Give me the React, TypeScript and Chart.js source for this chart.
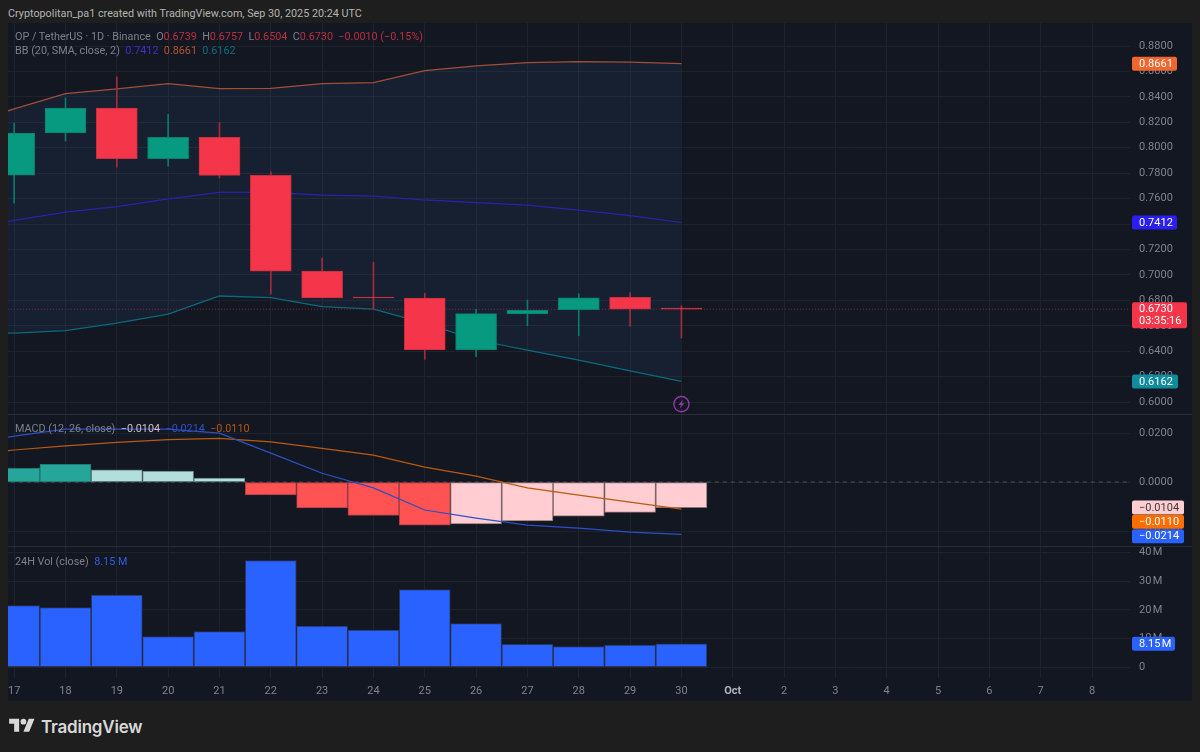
import React, { useEffect, useRef } from "react";
import { Chart, registerables } from "chart.js";

Chart.register(...registerables);

// ---------- data ----------
const axisLabels = ["17","18","19","20","21","22","23","24","25","26","27","28","29","30","Oct","2","3","4","5","6","7","8"];
const candleIndex = [0,1,2,3,4,5,6,7,8,9,10,11,12,13];
const opens  = [0.7785,0.8116,0.8312,0.7914,0.8082,0.7783,0.7030,0.6825,0.6818,0.6409,0.6694,0.6726,0.6823,0.6739];
const closes = [0.8116,0.8312,0.7914,0.8082,0.7783,0.7030,0.6818,0.6818,0.6409,0.6695,0.6721,0.6820,0.6731,0.6730];
const highs  = [0.8194,0.8393,0.8558,0.8263,0.8197,0.7811,0.7133,0.7101,0.6855,0.6729,0.6802,0.6852,0.6860,0.6757];
const lows   = [0.7565,0.8053,0.7846,0.7856,0.7762,0.6849,0.6818,0.6731,0.6336,0.6356,0.6600,0.6521,0.6595,0.6504];
const bandIndex = [-1,0,1,2,3,4,5,6,7,8,9,10,11,12,13];
const bbUpper  = [0.8187,0.8305,0.8425,0.8462,0.8504,0.8464,0.8467,0.8505,0.8513,0.8607,0.8643,0.8670,0.8678,0.8674,0.8661];
const bbMiddle = [0.7364,0.7429,0.7494,0.7536,0.7597,0.7649,0.7648,0.7628,0.7620,0.7589,0.7569,0.7549,0.7510,0.7467,0.7412];
const bbLower  = [0.6535,0.6543,0.6562,0.6621,0.6692,0.6834,0.6822,0.6751,0.6731,0.6621,0.6488,0.6409,0.6330,0.6246,0.6162];
const macdLine   = [0.0155,0.0188,0.0216,0.0216,0.0216,0.0200,0.0118,0.0036,-0.0024,-0.0114,-0.0147,-0.0176,-0.0188,-0.0204,-0.0214];
const signalLine = [0.0110,0.0131,0.0148,0.0162,0.0173,0.0178,0.0164,0.0138,0.0110,0.0061,0.0024,-0.0024,-0.0053,-0.0082,-0.0110];
const macdHist = [0.0056,0.0072,0.0050,0.0045,0.0016,-0.0052,-0.0106,-0.0136,-0.0176,-0.0171,-0.0159,-0.0139,-0.0124,-0.0104];
const volumesM = [21.5,20.8,25.2,10.7,12.4,37.2,14.3,12.9,27.1,15.2,8.0,7.2,7.7,8.15];
const lastPrice = 0.6730;
const lastLabel = "0.6730";
const countdown = "03:35:16";
const bbUpperLast = 0.8661;
const bbMiddleLast = 0.7412;
const bbLowerLast = 0.6162;
const priceTicksStep = 0.02;
const macdTicksStep = 0.02;
const volTicksStep = 10;
const headerText = "Cryptopolitan_pa1 created with TradingView.com, Sep 30, 2025 20:24 UTC";

// ---------- styles ----------
const UP = "#089981";
const DOWN = "#f5364a";
const GRID = "#1d222d";
const TEXT = "#80838d";
const FONT = "Roboto, Inter, 'Noto Sans', sans-serif";
const dim = "#7d808a";
const redVal = "#bb2f3f";

const fmtMinus = (v: number, d = 4) => (v < 0 ? "\u2212" : "") + Math.abs(v).toFixed(d);

const panePlugin = {
  id: "panes",
  beforeDraw(chart: any) {
    const { ctx, width, height } = chart;
    ctx.save();
    ctx.fillStyle = "#131722";
    ctx.fillRect(0, 0, width, height);
    ctx.restore();
  },
  afterDraw(chart: any) {
    const { ctx, scales, width } = chart;
    const { x, yP, yM, yV } = scales;
    ctx.save();
    // pane separators
    ctx.strokeStyle = "#2a2e39";
    ctx.lineWidth = 1;
    for (const py of [yP.bottom, yM.bottom]) {
      ctx.beginPath();
      ctx.moveTo(0, Math.round(py) + 0.5);
      ctx.lineTo(width, Math.round(py) + 0.5);
      ctx.stroke();
    }
    // lightning marker below last candle
    const mx = x.getPixelForValue(13);
    const my = yP.getPixelForValue(0.5984);
    ctx.strokeStyle = "#8e3aa8";
    ctx.lineWidth = 1.4;
    ctx.beginPath();
    ctx.arc(mx, my, 7.6, 0, Math.PI * 2);
    ctx.stroke();
    ctx.fillStyle = "#8e3aa8";
    ctx.beginPath();
    ctx.moveTo(mx + 1.8, my - 4.6);
    ctx.lineTo(mx - 3, my + 0.8);
    ctx.lineTo(mx - 0.4, my + 0.8);
    ctx.lineTo(mx - 1.8, my + 4.6);
    ctx.lineTo(mx + 3, my - 0.8);
    ctx.lineTo(mx + 0.4, my - 0.8);
    ctx.closePath();
    ctx.fill();

    const tag = (cy: number, w: number, bg: string, fg: string, text: string, text2?: string) => {
      const h = text2 ? 26 : 14;
      const left = x.right + 2;
      const top = cy - 7;
      ctx.fillStyle = bg;
      ctx.beginPath();
      ctx.roundRect(left, top, w, h, 2);
      ctx.fill();
      ctx.font = `11px ${FONT}`;
      ctx.textBaseline = "middle";
      ctx.textAlign = "left";
      ctx.fillStyle = fg;
      ctx.fillText(text, left + 7, cy + 0.5);
      if (text2) ctx.fillText(text2, left + 7, cy + 12.5);
    };
    tag(yP.getPixelForValue(bbUpperLast), 45, "#f1652f", "#ffffff", bbUpperLast.toFixed(4));
    tag(yP.getPixelForValue(bbMiddleLast), 45, "#2a1ef0", "#ffffff", bbMiddleLast.toFixed(4));
    tag(yP.getPixelForValue(lastPrice), 55, DOWN, "#ffffff", lastLabel, countdown);
    tag(yP.getPixelForValue(bbLowerLast), 46, "#0f8d9e", "#ffffff", bbLowerLast.toFixed(4));
    const mY = yM.getPixelForValue(macdHist[13]);
    tag(mY, 52, "#ffcdd2", "#3a3a3a", fmtMinus(macdHist[13]));
    tag(mY + 14.3, 52, "#ff6d00", "#ffffff", fmtMinus(signalLine[14]));
    tag(mY + 28.6, 52, "#2962ff", "#ffffff", fmtMinus(macdLine[14]));
    tag(yV.getPixelForValue(volumesM[13]), 43, "#2962ff", "#ffffff", "8.15\u202fM");
    ctx.restore();
  },
};

export default function App() {
  const ref = useRef<HTMLCanvasElement | null>(null);

  useEffect(() => {
    if (!ref.current) return;
    document.body.style.margin = "0";
    document.body.style.background = "#1e1e1e";

    const fit = (w?: number, h?: number) => (s: any) => {
      if (w) s.width = w;
      if (h) s.height = h;
      s.paddingLeft = 0;
      s.paddingRight = 0;
      s.paddingTop = 0;
      s.paddingBottom = 0;
    };
    const yBase = (stackWeight: number, weight: number, min: number, max: number, stepSize: number, cb: (v: number) => string) => ({
      type: "linear",
      position: "right",
      stack: "panes",
      stackWeight,
      weight,
      min,
      max,
      afterFit: fit(62),
      grid: { color: GRID, drawTicks: false, lineWidth: 1 },
      border: { display: false },
      ticks: {
        stepSize,
        includeBounds: false,
        autoSkip: false,
        padding: 9,
        color: TEXT,
        font: { family: FONT, size: 11 },
        callback: cb,
      },
    });

    const line = (label: string, idx: number[], vals: number[], yAxisID: string, color: string, order: number, extra: any = {}) => ({
      type: "line",
      label,
      data: idx.map((x, i) => ({ x, y: vals[i] })),
      yAxisID,
      borderColor: color,
      borderWidth: 1.25,
      pointRadius: 0,
      tension: 0,
      order,
      ...extra,
    });
    const bar = (label: string, data: any[], yAxisID: string, thickness: number, bg: any, bc: any, bw: number, order: number) => ({
      type: "bar",
      label,
      data,
      yAxisID,
      grouped: false,
      barThickness: thickness,
      backgroundColor: bg,
      borderColor: bc,
      borderWidth: bw,
      borderSkipped: false,
      order,
    });

    const histFill = macdHist.map((v, i) =>
      v >= 0 ? (i > 0 && v < macdHist[i - 1] ? "#b2dfdb" : i < 2 ? "#26a69a" : "#b2dfdb") : i > 0 && v > macdHist[i - 1] ? "#ffcdd2" : "#ff5252"
    );
    const histBorder = histFill.map((c) => ({ "#26a69a": "#1c7f76", "#b2dfdb": "#5f7d7b", "#ff5252": "#a63f48", "#ffcdd2": "#8c7376" } as any)[c]);

    const bandDatasetIndex = 2; // index of the lower band below
    const chart = new Chart(ref.current, {
      type: "bar",
      data: {
        datasets: [
          line("BB upper", bandIndex, bbUpper, "yP", "#a34e36", 10, {
            fill: { target: bandDatasetIndex },
            backgroundColor: "rgba(50,115,180,0.10)",
          }),
          line("BB basis", bandIndex, bbMiddle, "yP", "#2a22ad", 9),
          line("BB lower", bandIndex, bbLower, "yP", "#0b6a7c", 9),
          line("Last", [-1, 22], [lastPrice, lastPrice], "yP", "#7c2a3c", 8, { borderDash: [1, 2], borderWidth: 1 }),
          bar("Wicks", candleIndex.map((x, i) => ({ x, y: [lows[i], highs[i]] })), "yP", 1,
            opens.map((o, i) => (closes[i] >= o ? "#0d7a6a" : "#a32b3d")), "transparent", 0, 5),
          bar("Candles", candleIndex.map((x, i) => ({ x, y: [opens[i], closes[i]] })), "yP", 41,
            opens.map((o, i) => (closes[i] >= o ? UP : DOWN)),
            opens.map((o, i) => (closes[i] >= o ? "#0b7f6e" : "#c6303f")), 1, 4),
          line("Zero", [-1, 22], [0, 0], "yM", "#4c505b", 10, { borderDash: [4, 4], borderWidth: 1 }),
          bar("Histogram", candleIndex.map((x, i) => ({ x, y: macdHist[i] })), "yM", 51, histFill, histBorder, 1, 6),
          line("MACD", bandIndex, macdLine, "yM", "#2c50c4", 3),
          line("Signal", bandIndex, signalLine, "yM", "#b85a10", 3),
          bar("Volume", candleIndex.map((x, i) => ({ x, y: volumesM[i] })), "yV", 51, "#2962ff", "#2a3358", 1, 6),
        ] as any,
      },
      options: {
        responsive: false,
        animation: false,
        events: [],
        layout: { padding: 0 },
        plugins: { legend: { display: false }, tooltip: { enabled: false } },
        scales: {
          x: {
            type: "linear",
            offset: false,
            min: -0.12,
            max: 21.74,
            afterFit: fit(undefined, 23),
            grid: { color: GRID, drawTicks: false, lineWidth: 1, offset: false },
            border: { display: false },
            ticks: {
              stepSize: 1,
              includeBounds: false,
              autoSkip: false,
              maxRotation: 0,
              padding: 7,
              color: (c: any) => (axisLabels[c.tick?.value] === "Oct" ? "#b2b5be" : TEXT),
              font: (c: any) => ({ family: FONT, size: 11, weight: axisLabels[c.tick?.value] === "Oct" ? "bold" : "normal" }),
              callback: (v: number) => axisLabels[v] ?? "",
            },
          },
          yP: yBase(391, 1, 0.5906, 0.8981, priceTicksStep, (v: number) => v.toFixed(4)),
          yM: yBase(132, 2, -0.0261, 0.0278, macdTicksStep, (v: number) => fmtMinus(v)),
          yV: yBase(132, 3, -3.8, 42.3, volTicksStep, (v: number) => (v === 0 ? "0" : `${v}\u202fM`)),
        } as any,
      },
      plugins: [panePlugin],
    } as any);
    return () => chart.destroy();
  }, []);

  const abs = (left: number, top: number): React.CSSProperties => ({
    position: "absolute",
    left,
    top,
    whiteSpace: "nowrap",
    fontFamily: FONT,
    fontSize: 10.8,
    lineHeight: "14px",
    color: dim,
  });

  return (
    <div style={{ position: "fixed", left: 0, top: 0, width: 1200, height: 752, background: "#1e1e1e", overflow: "hidden" }}>
      <div style={{ ...abs(8, 7), color: "#b4b4b4" }}>{headerText}</div>
      <canvas ref={ref} width={1184} height={678} style={{ position: "absolute", left: 8, top: 23, width: 1184, height: 678 }} />
      <div style={abs(15, 30)}>
        OP / TetherUS · 1D · Binance&nbsp;&nbsp;O<span style={{ color: redVal }}>0.6739</span>&nbsp;&nbsp;H
        <span style={{ color: redVal }}>0.6757</span>&nbsp;&nbsp;L<span style={{ color: redVal }}>0.6504</span>&nbsp;&nbsp;C
        <span style={{ color: redVal }}>0.6730</span>&nbsp;&nbsp;<span style={{ color: redVal }}>−0.0010 (−0.15%)</span>
      </div>
      <div style={abs(15, 44)}>
        BB (20, SMA, close, 2)&nbsp;&nbsp;<span style={{ color: "#3a2fd0" }}>0.7412</span>&nbsp;&nbsp;
        <span style={{ color: "#b4542f" }}>0.8661</span>&nbsp;&nbsp;<span style={{ color: "#0d6f80" }}>0.6162</span>
      </div>
      <div style={abs(15, 422)}>
        MACD (12, 26, close)&nbsp;&nbsp;<span style={{ color: "#d9bcc0" }}>−0.0104</span>&nbsp;&nbsp;
        <span style={{ color: "#2b52c6" }}>−0.0214</span>&nbsp;&nbsp;<span style={{ color: "#b4570f" }}>−0.0110</span>
      </div>
      <div style={abs(15, 555)}>
        24H Vol (close)&nbsp;&nbsp;<span style={{ color: "#2b5fe0" }}>8.15 M</span>
      </div>
      <svg width={26} height={20} viewBox="0 0 36 28" style={{ position: "absolute", left: 9, top: 716 }}>
        <path fill="#d8d8d8" d="M14 22H7V11H0V4h14v18zM28 22h-8l7.5-18h8L28 22z" />
        <circle cx="20" cy="8" r="4" fill="#d8d8d8" />
      </svg>
      <div style={{ ...abs(41, 715), fontFamily: "Inter, sans-serif", fontSize: 17, lineHeight: "24px", fontWeight: 600, color: "#d8d8d8", letterSpacing: "-0.2px" }}>TradingView</div>
    </div>
  );
}
